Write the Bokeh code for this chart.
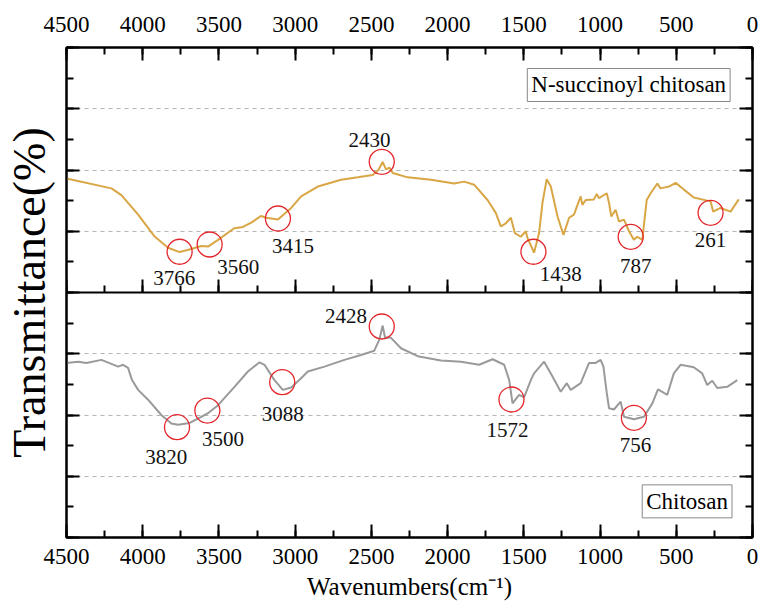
from bokeh.plotting import figure
from bokeh.models import Range1d, LinearAxis, SingleIntervalTicker, FixedTicker, Label, Grid
from bokeh.core.properties import value
from bokeh.embed import file_html
from bokeh.resources import INLINE

# ---------------- data ----------------
nsc_wn = [4500, 4205, 4140, 4030, 3924, 3834, 3758, 3681, 3616, 3572, 3506, 3400, 3343, 3288, 3223,
          3190, 3113, 3026, 2961, 2851, 2699, 2589, 2491, 2454, 2426, 2404, 2382, 2360, 2262, 2109,
          1957, 1891, 1826, 1738, 1684, 1651, 1618, 1585, 1559, 1520, 1487, 1476, 1433, 1400, 1378,
          1350, 1323, 1279, 1240, 1203, 1171, 1148, 1127, 1116, 1094, 1040, 1022, 1007, 956, 941,
          926, 898, 876, 843, 810, 778, 756, 723, 694, 668, 624, 603, 548, 504, 450,
          385, 297, 275, 258, 210, 144, 90]
nsc_t = [1.86, 1.70, 1.59, 1.27, 0.92, 0.73, 0.66, 0.71, 0.76, 0.75, 0.86, 1.05, 1.07, 1.14, 1.25,
         1.22, 1.19, 1.38, 1.57, 1.73, 1.84, 1.88, 1.92, 2.00, 2.13, 2.01, 2.04, 1.95, 1.88, 1.84,
         1.78, 1.81, 1.76, 1.51, 1.30, 1.08, 1.13, 1.22, 0.97, 0.91, 1.00, 0.89, 0.65, 0.97, 1.46,
         1.85, 1.73, 1.24, 0.94, 1.22, 1.27, 1.43, 1.57, 1.43, 1.51, 1.52, 1.61, 1.54, 1.62, 1.46,
         1.24, 1.35, 1.16, 1.19, 1.00, 0.86, 0.91, 0.86, 1.51, 1.62, 1.78, 1.70, 1.73, 1.79, 1.68,
         1.55, 1.50, 1.49, 1.32, 1.38, 1.32, 1.52]

chi_wn = [4500, 4423, 4369, 4271, 4161, 4129, 4096, 4070, 4030, 3965, 3878, 3812, 3768, 3692, 3616,
          3572, 3506, 3398, 3310, 3234, 3201, 3136, 3081, 3026, 2961, 2917, 2808, 2677, 2568, 2481,
          2448, 2426, 2411, 2371, 2306, 2196, 2044, 1913, 1793, 1705, 1629, 1596, 1574, 1531, 1498,
          1454, 1433, 1367, 1312, 1258, 1218, 1192, 1127, 1072, 1029, 996, 978, 956, 941, 909,
          865, 843, 778, 712, 657, 620, 581, 559, 516, 472, 385, 330, 297, 264, 231, 166, 100]
chi_t = [2.85, 2.87, 2.85, 2.90, 2.79, 2.82, 2.77, 2.57, 2.41, 2.25, 2.00, 1.86, 1.84, 1.87, 1.97,
         2.03, 2.16, 2.46, 2.71, 2.86, 2.82, 2.57, 2.41, 2.45, 2.60, 2.71, 2.79, 2.90, 2.98, 3.05,
         3.23, 3.46, 3.27, 3.26, 3.09, 2.96, 2.89, 2.87, 2.82, 2.91, 2.82, 2.57, 2.19, 2.33, 2.29,
         2.57, 2.68, 2.87, 2.63, 2.38, 2.52, 2.41, 2.52, 2.85, 2.85, 2.90, 2.79, 2.36, 2.11, 2.09,
         2.22, 1.97, 1.93, 1.97, 2.19, 2.42, 2.36, 2.33, 2.68, 2.82, 2.78, 2.68, 2.49, 2.56, 2.44,
         2.46, 2.57]

nsc_peak_text = ["3766", "3560", "3415", "2430", "1438", "787", "261"]
nsc_peak_wn = [3758, 3561, 3113, 2432, 1437, 799, 275]
nsc_peak_t = [0.665, 0.784, 1.208, 2.134, 0.665, 0.909, 1.301]
nsc_text_wn = [3793, 3373, 3015, 2513, 1258, 766, 275]
nsc_text_t = [0.244, 0.423, 0.764, 2.488, 0.309, 0.428, 0.862]

chi_peak_text = ["3820", "3500", "3088", "2428", "1572", "756"]
chi_peak_wn = [3775, 3576, 3085, 2432, 1581, 778]
chi_peak_t = [1.801, 2.073, 2.536, 3.445, 2.253, 1.954]
chi_text_wn = [3845, 3474, 3081, 2666, 1607, 767]
chi_text_t = [1.311, 1.611, 2.020, 3.624, 1.763, 1.518]

x_title = "Wavenumbers(cm\u207b\u00b9)"
y_title = "Transmittance(%)"

FONT = "Liberation Serif"

p = figure(width=760, height=609, x_range=Range1d(4500, 0), y_range=Range1d(0, 8),
           output_backend="svg", toolbar_location=None,
           x_axis_location=None, y_axis_location=None,
           min_border_left=65, min_border_right=8, min_border_top=47, min_border_bottom=72)
p.extra_y_ranges = {"top": Range1d(-4, 4)}
p.center = [r for r in p.center if not isinstance(r, Grid)]
p.outline_line_color = "black"
p.outline_line_width = 2
p.background_fill_color = "white"
p.border_fill_color = "white"


def style(ax, labels=True):
    ax.axis_line_width = 2
    ax.axis_line_color = "black"
    ax.major_tick_line_width = 2
    ax.minor_tick_line_width = 2
    ax.major_tick_in = 13
    ax.major_tick_out = 0
    ax.minor_tick_in = 7
    ax.minor_tick_out = 0
    ax.major_label_text_font = FONT
    if labels:
        ax.major_label_text_color = "black"
        ax.major_label_text_font_size = "23px"
    else:
        ax.major_label_text_color = None
        ax.major_label_text_font_size = "0px"
        ax.major_label_standoff = 0
    ax.axis_label_text_font = FONT
    ax.axis_label_text_font_style = "normal"
    ax.axis_label_text_color = "black"


xb = LinearAxis(ticker=SingleIntervalTicker(interval=500, num_minor_ticks=2), axis_label=x_title)
style(xb)
xb.major_label_standoff = 11
xb.axis_label_standoff = 6
xb.axis_label_text_font_size = "25px"
p.add_layout(xb, "below")

xt = LinearAxis(ticker=SingleIntervalTicker(interval=500, num_minor_ticks=2))
style(xt)
xt.major_label_standoff = 16
p.add_layout(xt, "above")

xd = LinearAxis(ticker=SingleIntervalTicker(interval=500, num_minor_ticks=2), fixed_location=4)
style(xd, labels=False)
p.add_layout(xd, "below")

yl = LinearAxis(ticker=SingleIntervalTicker(interval=1, num_minor_ticks=2), axis_label=y_title)
style(yl, labels=False)
yl.axis_label_standoff = 12
yl.axis_label_text_font_size = "46px"
p.add_layout(yl, "left")

yr = LinearAxis(ticker=SingleIntervalTicker(interval=1, num_minor_ticks=2))
style(yr, labels=False)
p.add_layout(yr, "right")

p.add_layout(Grid(dimension=1, ticker=FixedTicker(ticks=[1, 2, 3, 5, 6, 7]),
                  grid_line_dash="4 4", grid_line_color="#b3b3b3", grid_line_width=1))

p.line(nsc_wn, nsc_t, y_range_name="top", line_color="#D9A646", line_width=2)
p.line(chi_wn, chi_t, line_color="#9a9a9a", line_width=2)

p.scatter(nsc_peak_wn, nsc_peak_t, y_range_name="top", marker="circle", size=25,
          fill_color=None, line_color="#E3262B", line_width=1.3)
p.scatter(chi_peak_wn, chi_peak_t, marker="circle", size=25,
          fill_color=None, line_color="#E3262B", line_width=1.3)

p.text(nsc_text_wn, nsc_text_t, text=nsc_peak_text, y_range_name="top",
       text_font=value(FONT), text_font_size="21px", text_align="center",
       text_baseline="middle", text_color="#111111")
p.text(chi_text_wn, chi_text_t, text=chi_peak_text,
       text_font=value(FONT), text_font_size="21px", text_align="center",
       text_baseline="middle", text_color="#111111")

p.add_layout(Label(x=812, y=3.388, y_range_name="top", text="N-succinoyl chitosan",
                   text_align="center", text_baseline="middle", text_font=FONT,
                   text_font_size="23px", text_color="black",
                   border_line_color="#888888", border_line_width=1,
                   background_fill_color="white", padding=4))
p.add_layout(Label(x=429, y=0.59, text="Chitosan",
                   text_align="center", text_baseline="middle", text_font=FONT,
                   text_font_size="23px", text_color="black",
                   border_line_color="#888888", border_line_width=1,
                   background_fill_color="white", padding=4))

open("out.html", "w").write(file_html(p, INLINE))
